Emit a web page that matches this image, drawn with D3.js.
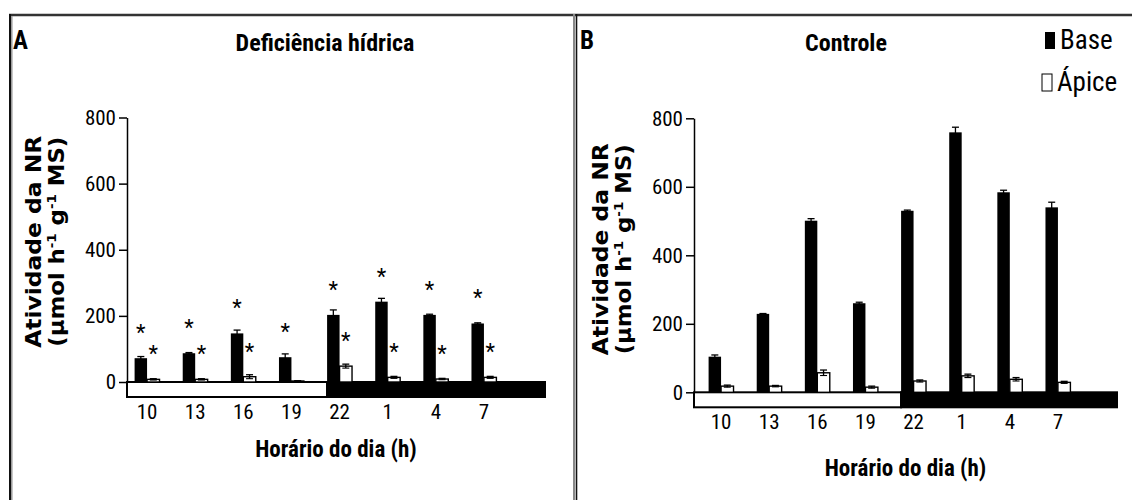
<!DOCTYPE html>
<html>
<head>
<meta charset="utf-8">
<script src="https://cdn.jsdelivr.net/npm/d3@7"></script>
<style>
  body { margin: 0; background: #fff; }
  svg { display: block; }
</style>
</head>
<body>
<div id="chart"></div>
<script>
// horas do dia (categorias)
const horas = ['10', '13', '16', '19', '22', '1', '4', '7'];
const horasNoite = ['22', '1', '4', '7'];
const series = ['Base', 'Ápice'];
const yTicks = [0, 200, 400, 600, 800];

// A - deficiência hídrica
const baseDef = [72, 87, 147, 75, 203, 243, 203, 177];
const baseDefErr = [5, 2, 10, 10, 15, 10, 2, 2];
const apiceDef = [8, 8, 16, 3, 48, 14, 9, 14];
const apiceDefErr = [2, 2, 6, 1, 6, 3, 2, 3];
const sigBaseDef = [1, 1, 1, 1, 1, 1, 1, 1];
const sigApiceDef = [1, 1, 1, 0, 1, 1, 1, 1];

// B - controle
const baseCtrl = [104, 229, 501, 260, 530, 759, 584, 540];
const baseCtrlErr = [5, 1, 6, 3, 2, 15, 6, 15];
const apiceCtrl = [18, 18, 57, 15, 33, 48, 38, 29];
const apiceCtrlErr = [3, 2, 8, 3, 3, 5, 5, 3];

const W = 1132, H = 500;
const fNarrow = '"Liberation Sans Narrow", "Roboto Condensed", "Liberation Sans", sans-serif';
const fLabel = '"DejaVu Sans", Verdana, sans-serif';

const svg = d3.select('#chart').append('svg')
    .attr('width', W)
    .attr('height', H);

/*
 * molduras
 */
function drawFrame() {
    svg.append('line').attr('x1', 9).attr('x2', W).attr('y1', 15).attr('y2', 15)
        .attr('stroke', '#333').attr('stroke-width', 2.5);
    svg.append('line').attr('x1', 10).attr('x2', 10).attr('y1', 14).attr('y2', H)
        .attr('stroke', '#111').attr('stroke-width', 2);
    svg.append('line').attr('x1', 11.8).attr('x2', 11.8).attr('y1', 16).attr('y2', H)
        .attr('stroke', '#999').attr('stroke-width', 1.5);
    svg.append('line').attr('x1', 574).attr('x2', 574).attr('y1', 14).attr('y2', H)
        .attr('stroke', '#888').attr('stroke-width', 2);
    svg.append('line').attr('x1', 576.5).attr('x2', 576.5).attr('y1', 14).attr('y2', H)
        .attr('stroke', '#111').attr('stroke-width', 1.6);
}

function drawPanel(p) {
    const g = svg.append('g');

    const x0 = d3.scaleBand().domain(horas).range([p.catLeft, p.catRight]);
    const x1 = d3.scaleBand().domain(series).range([0, x0.bandwidth()]).paddingOuter(0.93);
    const y = d3.scaleLinear().domain([0, 800]).range([p.y0, p.y800]);

    // eixo y
    const yAxis = d3.axisLeft(y).tickValues(yTicks).tickSize(8).tickPadding(3).tickSizeOuter(0);
    const ax = g.append('g').attr('transform', `translate(${p.left},0)`).call(yAxis);
    ax.select('.domain').attr('stroke', '#000').attr('stroke-width', 1.5);
    ax.selectAll('.tick line').attr('stroke', '#000').attr('stroke-width', 1.5);
    ax.selectAll('.tick text')
        .attr('font-family', fNarrow)
        .attr('font-size', '21px')
        .attr('fill', '#000');

    // faixa dia / noite
    const bandH = 15;
    const xNoite = x0(horasNoite[0]) + x1('Base');
    g.append('rect')
        .attr('x', p.left).attr('y', y(0))
        .attr('width', xNoite - p.left).attr('height', bandH)
        .attr('fill', '#fff').attr('stroke', '#000').attr('stroke-width', 2);
    g.append('rect')
        .attr('x', xNoite).attr('y', y(0))
        .attr('width', p.right - xNoite).attr('height', bandH)
        .attr('fill', '#000').attr('stroke', '#000').attr('stroke-width', 2);

    const rows = horas.map((h, i) => ({
        h: h,
        base: p.base[i], baseErr: p.baseErr[i],
        apice: p.apice[i], apiceErr: p.apiceErr[i],
        sigB: p.sigBase ? p.sigBase[i] : 0,
        sigA: p.sigApice ? p.sigApice[i] : 0
    }));

    // barras
    const grp = g.selectAll('.grp').data(rows).enter().append('g')
        .attr('transform', d => `translate(${x0(d.h)},0)`);

    grp.append('rect')
        .attr('x', x1('Base')).attr('width', x1.bandwidth())
        .attr('y', d => y(d.base)).attr('height', d => y(0) - y(d.base))
        .attr('fill', '#000');
    grp.append('rect')
        .attr('x', x1('Ápice')).attr('width', x1.bandwidth())
        .attr('y', d => y(d.apice)).attr('height', d => y(0) - y(d.apice))
        .attr('fill', '#fff').attr('stroke', '#000').attr('stroke-width', 1.4);

    // barras de erro
    const cap = 3.5;
    [['Base', 'base', 'baseErr'], ['Ápice', 'apice', 'apiceErr']].forEach(([s, k, e]) => {
        const cx = x1(s) + x1.bandwidth() / 2;
        grp.append('line')
            .attr('x1', cx).attr('x2', cx)
            .attr('y1', d => y(d[k] - d[e])).attr('y2', d => y(d[k] + d[e]))
            .attr('stroke', '#000').attr('stroke-width', 1.3);
        grp.append('line')
            .attr('x1', cx - cap).attr('x2', cx + cap)
            .attr('y1', d => y(d[k] + d[e])).attr('y2', d => y(d[k] + d[e]))
            .attr('stroke', '#000').attr('stroke-width', 1.3);
        grp.append('line')
            .attr('x1', cx - cap).attr('x2', cx + cap)
            .attr('y1', d => y(Math.max(0, d[k] - d[e]))).attr('y2', d => y(Math.max(0, d[k] - d[e])))
            .attr('stroke', '#000').attr('stroke-width', 1.1);
    });

    // asteriscos
    const astOff = 29 - 11;
    grp.filter(d => d.sigB).append('text')
        .attr('x', x1('Base') + x1.bandwidth() / 2)
        .attr('y', d => y(d.base) - astOff)
        .attr('text-anchor', 'middle')
        .attr('font-family', fNarrow).attr('font-size', '22px')
        .text('*');
    grp.filter(d => d.sigA).append('text')
        .attr('x', x1('Ápice') + x1.bandwidth() / 2)
        .attr('y', d => y(d.apice) - astOff)
        .attr('text-anchor', 'middle')
        .attr('font-family', fNarrow).attr('font-size', '22px')
        .text('*');

    // rótulos x
    g.selectAll('.xl').data(horas).enter().append('text')
        .attr('x', d => x0(d) + x0.bandwidth() / 2)
        .attr('y', p.xLabelY)
        .attr('text-anchor', 'middle')
        .attr('font-family', fNarrow).attr('font-size', '21px')
        .text(d => d);

    // título eixo x
    g.append('text')
        .attr('x', (p.left + p.right) / 2).attr('y', p.xTitleY)
        .attr('text-anchor', 'middle')
        .attr('font-family', fNarrow).attr('font-size', '23px').attr('font-weight', 'bold')
        .text('Horário do dia (h)');

    // título eixo y (duas linhas)
    const yc = (p.y0 + p.y800) / 2 + p.yLabelShift;
    const yl = g.append('text')
        .attr('transform', `translate(${p.left - 86},${yc}) rotate(-90)`)
        .attr('text-anchor', 'middle')
        .attr('font-family', fLabel).attr('font-size', '22px').attr('font-weight', 'bold')
        .attr('textLength', 212).attr('lengthAdjust', 'spacingAndGlyphs');
    yl.text('Atividade da NR');
    const l2 = g.append('text')
        .attr('transform', `translate(${p.left - 63},${yc}) rotate(-90)`)
        .attr('text-anchor', 'middle')
        .attr('font-family', fLabel).attr('font-size', '22px').attr('font-weight', 'bold')
        .attr('textLength', 210).attr('lengthAdjust', 'spacingAndGlyphs');
    l2.append('tspan').text('(µmol h');
    l2.append('tspan').attr('font-size', '13px').attr('dy', -8).text('-1');
    l2.append('tspan').attr('dy', 8).text(' g');
    l2.append('tspan').attr('font-size', '13px').attr('dy', -8).text('-1');
    l2.append('tspan').attr('dy', 8).text(' MS)');

    // título do painel
    g.append('text')
        .attr('x', p.letterX).attr('y', 49)
        .attr('font-family', fNarrow).attr('font-size', '25px').attr('font-weight', 'bold')
        .text(p.letter);
    g.append('text')
        .attr('x', p.titleX).attr('y', 51)
        .attr('text-anchor', 'middle')
        .attr('font-family', fNarrow).attr('font-size', '24px').attr('font-weight', 'bold')
        .text(p.title);
}

function drawLegend() {
    const items = [
        {name: 'Base', fill: '#000', x: 1045, y: 49},
        {name: 'Ápice', fill: '#fff', x: 1042, y: 91}
    ];
    const lg = svg.append('g');
    items.forEach(it => {
        lg.append('rect')
            .attr('x', it.x).attr('y', it.y - 17)
            .attr('width', 10).attr('height', 17)
            .attr('fill', it.fill).attr('stroke', '#000').attr('stroke-width', it.fill === '#000' ? 0 : 1);
        lg.append('text')
            .attr('x', it.x + 15).attr('y', it.y)
            .attr('font-family', fNarrow).attr('font-size', '27px')
            .text(it.name);
    });
}

drawFrame();
drawPanel({
    left: 127, right: 545, catLeft: 123, catRight: 508, y0: 382, y800: 117.5,
    base: baseDef, baseErr: baseDefErr, apice: apiceDef, apiceErr: apiceDefErr,
    sigBase: sigBaseDef, sigApice: sigApiceDef,
    xLabelY: 419, xTitleY: 457, yLabelShift: -8,
    letter: 'A', letterX: 13, title: 'Deficiência hídrica', titleX: 325
});
drawPanel({
    left: 694, right: 1117, catLeft: 697, catRight: 1082, y0: 392.3, y800: 118.3,
    base: baseCtrl, baseErr: baseCtrlErr, apice: apiceCtrl, apiceErr: apiceCtrlErr,
    xLabelY: 429, xTitleY: 476, yLabelShift: -6,
    letter: 'B', letterX: 580, title: 'Controle', titleX: 846
});
drawLegend();
</script>
</body>
</html>
